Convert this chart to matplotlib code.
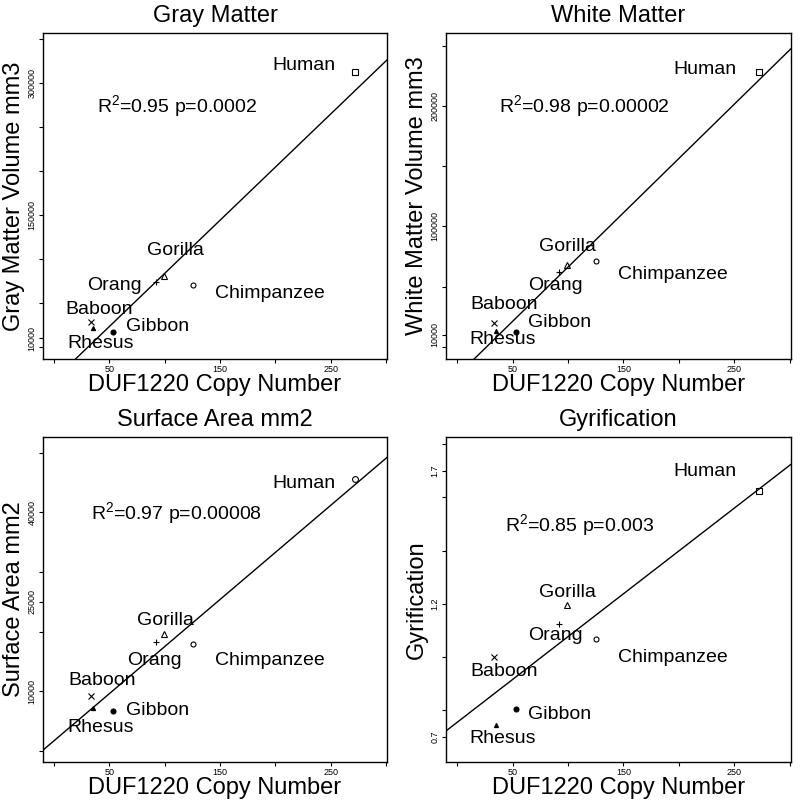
import matplotlib
matplotlib.use('Agg')
import matplotlib.pyplot as plt

plt.rcParams['font.family'] = ['Liberation Sans', 'DejaVu Sans']
plt.rcParams['mathtext.fontset'] = 'custom'
plt.rcParams['mathtext.rm'] = 'Liberation Sans'
plt.rcParams['mathtext.it'] = 'Liberation Sans'

species = ['Human', 'Chimpanzee', 'Gorilla', 'Orang', 'Baboon', 'Rhesus', 'Gibbon']
copy_number = [272.5, 125.5, 99, 92, 33, 35, 53]

gray_matter = [312000, 70500, 81000, 74200, 28000, 21200, 16700]
white_matter = [228000, 71500, 67900, 62400, 19500, 13300, 12500]
surface_area = [45600, 17950, 19600, 18200, 9200, 7150, 6700]
gyrification = [1.624, 1.068, 1.194, 1.125, 1.001, 0.743, 0.803]

titles = ['Gray Matter', 'White Matter', 'Surface Area mm2', 'Gyrification']
ylabels = ['Gray Matter Volume mm3', 'White Matter Volume mm3', 'Surface Area mm2', 'Gyrification']
stats = [r'R$^2$=0.95 p=0.0002', r'R$^2$=0.98 p=0.00002', r'R$^2$=0.97 p=0.00008', r'R$^2$=0.85 p=0.003']
# regression lines (intercept, slope) as drawn
fits = [(-36970, 1206.5), (-24090, 902.7), (1677, 158.0), (0.754, 0.003221)]

y_major = [range(0, 350001, 50000), range(0, 250001, 50000),
           range(0, 50001, 10000), [0.8, 1.0, 1.2, 1.4, 1.6, 1.8]]
y_labeled = [[10000, 150000, 300000], [10000, 100000, 200000],
             [10000, 25000, 40000], [0.7, 1.2, 1.7]]
y_lims = [(-13600, 356800), (-10230, 260800), (-1900, 52700), (0.605, 1.8275)]

# label placement (data coords) per panel, order as species; then stat text pos
label_pos = [
    [(226, 319700), (195.5, 61000), (110, 109400), (54.8, 69700), (40.3, 42800), (41.8, 4200), (93.4, 23100)],
    [(224, 230100), (194.4, 60400), (99.5, 83100), (89, 50500), (42.2, 34700), (40.7, 5600), (92, 20000)],
    [(226, 44940), (195.5, 15130), (100.3, 21830), (90.3, 15130), (43.4, 11800), (41.8, 3820), (93.4, 6820)],
    [(224, 1.697), (194.4, 0.999), (99.5, 1.243), (89, 1.080), (42.2, 0.945), (40.7, 0.695), (92, 0.785)],
]
stat_pos = [(38.8, 273900), (37.7, 200100), (33.4, 39950), (43.1, 1.494)]

markers = ['s', 'o', '^', '+', 'x', '^', 'o']
msizes = [4.2, 3.6, 4.2, 5, 3.8, 3.0, 3.6]
filled = [False, False, False, False, False, True, True]

panels = [gray_matter, white_matter, surface_area, gyrification]
boxes = [(0.05375, 0.554, 0.43, 0.405), (0.5575, 0.554, 0.431, 0.405),
         (0.05375, 0.0534, 0.43, 0.404), (0.5575, 0.0534, 0.431, 0.404)]

fig = plt.figure(figsize=(8, 8.05), dpi=100)
for k in range(4):
    ax = fig.add_axes(boxes[k])
    vals = panels[k]
    for i in range(len(species)):
        m = markers[i]
        if k == 2 and i == 0:
            m = 'o'
        fc = 'black' if filled[i] else 'none'
        ax.plot(copy_number[i], vals[i], marker=m, ms=msizes[i], mfc=fc, mec='black', mew=0.8, ls='none')
        ax.text(label_pos[k][i][0], label_pos[k][i][1], species[i], fontsize=14, ha='center', va='center')
    b, s = fits[k]
    ax.axline((0, b), slope=s, color='black', lw=1.0)
    ax.text(stat_pos[k][0], stat_pos[k][1], stats[k], fontsize=14, ha='left', va='center')

    ax.set_xlim(-10, 301)
    ax.set_ylim(*y_lims[k])
    ax.set_xticks(range(0, 301, 50))
    ax.set_xticklabels(['' if t % 100 == 0 else str(t) for t in range(0, 301, 50)])
    ax.set_yticks(y_labeled[k])
    ax.set_yticklabels([str(v) for v in y_labeled[k]], rotation=90, va='center')
    ax.set_yticks(list(y_major[k]), minor=True)
    ax.tick_params(which='both', direction='out', length=3, width=0.8, labelsize=6.5, pad=1.5)
    for sp in ax.spines.values():
        sp.set_linewidth(1.0)
    ax.set_title(titles[k], fontsize=17, pad=8)
    ax.set_xlabel('DUF1220 Copy Number', fontsize=17, labelpad=0)
    ax.set_ylabel(ylabels[k], fontsize=17, labelpad=2)

fig.savefig('out.png', dpi=100)
